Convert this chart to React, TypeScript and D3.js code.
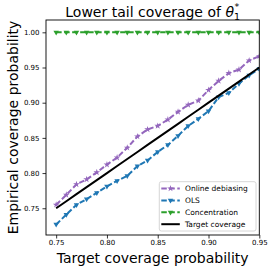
import { useEffect, useRef } from "react";
import * as d3 from "d3";

// target coverage levels (x)
const levels = [
  0.75, 0.76, 0.77, 0.78, 0.79, 0.8, 0.81, 0.82, 0.83, 0.84, 0.85, 0.86, 0.87,
  0.88, 0.89, 0.9, 0.91, 0.92, 0.93, 0.94, 0.95,
];
const onlineDebiasing = [
  0.755, 0.769, 0.784, 0.791, 0.801, 0.812, 0.822, 0.836, 0.852, 0.862, 0.867,
  0.876, 0.887, 0.897, 0.903, 0.918, 0.931, 0.942, 0.947, 0.96, 0.966,
];
const ols = [
  0.727, 0.741, 0.755, 0.763, 0.772, 0.781, 0.789, 0.796, 0.81, 0.818, 0.83,
  0.84, 0.853, 0.867, 0.877, 0.888, 0.908, 0.914, 0.927, 0.939, 0.948,
];
const concentration = [
  1, 1, 1, 1, 1, 1, 1, 1, 1, 1, 1, 1, 1, 1, 1, 1, 1, 1, 1, 1, 1,
];
const xTicks = [0.75, 0.8, 0.85, 0.9, 0.95];
const yTicks = [0.75, 0.8, 0.85, 0.9, 0.95, 1.0];

const W = 274;
const H = 272;

export default function App() {
  const svgRef = useRef<SVGSVGElement>(null);

  useEffect(() => {
    if (!svgRef.current) return;
    const svg = d3.select(svgRef.current);
    svg.selectAll("*").remove();

    const margin = { top: 20, right: 14.7, bottom: 37, left: 46 };
    const x = d3
      .scaleLinear()
      .domain([0.74, 0.95])
      .range([margin.left, W - margin.right]);
    const y = d3
      .scaleLinear()
      .domain([0.712, 1.0175])
      .range([H - margin.bottom, margin.top]);

    const font = "DejaVu Sans, sans-serif";

    svg
      .append("defs")
      .append("clipPath")
      .attr("id", "plot-clip")
      .append("rect")
      .attr("x", margin.left)
      .attr("y", margin.top)
      .attr("width", W - margin.left - margin.right)
      .attr("height", H - margin.top - margin.bottom);

    const plot = svg.append("g").attr("clip-path", "url(#plot-clip)");

    const series = [
      { name: "Online debiasing", values: onlineDebiasing, color: "#9467bd", marker: "star" },
      { name: "OLS", values: ols, color: "#1f77b4", marker: "tri" },
      { name: "Concentration", values: concentration, color: "#2ca02c", marker: "tri" },
    ];

    const line = d3
      .line<number>()
      .x((_, i) => x(levels[i]))
      .y((d) => y(d));

    const markerPath = (m: string) =>
      m === "star"
        ? d3.symbol().type(d3.symbolStar).size(14)()
        : d3.symbol().type(d3.symbolTriangle).size(13)();

    series.forEach((s) => {
      plot
        .append("path")
        .datum(s.values)
        .attr("fill", "none")
        .attr("stroke", s.color)
        .attr("stroke-width", 2)
        .attr("stroke-dasharray", "5.5,2.5")
        .attr("d", line);
      plot
        .append("g")
        .selectAll("path")
        .data(s.values)
        .join("path")
        .attr("d", markerPath(s.marker))
        .attr(
          "transform",
          (d, i) =>
            `translate(${x(levels[i])},${y(d)})` +
            (s.marker === "tri" ? " rotate(180)" : "")
        )
        .attr("fill", s.color);
    });

    // target coverage diagonal
    plot
      .append("path")
      .datum(levels)
      .attr("fill", "none")
      .attr("stroke", "#000")
      .attr("stroke-width", 2)
      .attr(
        "d",
        d3
          .line<number>()
          .x((d) => x(d))
          .y((d) => y(d))
      );

    // axes
    const xAxis = svg
      .append("g")
      .attr("transform", `translate(0,${H - margin.bottom})`)
      .call(
        d3
          .axisBottom(x)
          .tickValues(xTicks)
          .tickFormat(d3.format(".2f"))
          .tickSize(3.5)
          .tickPadding(2)
      );
    const yAxis = svg
      .append("g")
      .attr("transform", `translate(${margin.left},0)`)
      .call(
        d3
          .axisLeft(y)
          .tickValues(yTicks)
          .tickFormat(d3.format(".2f"))
          .tickSize(3.5)
          .tickPadding(3)
      );
    [xAxis, yAxis].forEach((a) => {
      a.select(".domain").remove();
      a.selectAll("line").attr("stroke", "#000").attr("stroke-width", 0.8);
      a.selectAll("text")
        .attr("fill", "#000")
        .attr("font-family", font)
        .attr("font-size", 7);
    });

    svg
      .append("rect")
      .attr("x", margin.left)
      .attr("y", margin.top)
      .attr("width", W - margin.left - margin.right)
      .attr("height", H - margin.top - margin.bottom)
      .attr("fill", "none")
      .attr("stroke", "#000")
      .attr("stroke-width", 0.9);

    const cx = (margin.left + W - margin.right) / 2;

    // title
    const title = svg
      .append("text")
      .attr("x", cx)
      .attr("y", 16.5)
      .attr("text-anchor", "middle")
      .attr("font-family", font)
      .attr("font-size", 14)
      .attr("fill", "#000");
    title.append("tspan").text("Lower tail coverage of ");
    title.append("tspan").attr("font-style", "italic").text("θ");
    title.append("tspan").attr("font-size", 9.5).attr("dy", 3).text("1");
    title
      .append("tspan")
      .attr("font-size", 9.5)
      .attr("dx", -5.5)
      .attr("dy", -9.5)
      .text("*");

    svg
      .append("text")
      .attr("x", cx)
      .attr("y", 262.7)
      .attr("text-anchor", "middle")
      .attr("font-family", font)
      .attr("font-size", 14)
      .text("Target coverage probability");

    svg
      .append("text")
      .attr(
        "transform",
        `translate(17.8,${(margin.top + H - margin.bottom) / 2}) rotate(-90)`
      )
      .attr("text-anchor", "middle")
      .attr("font-family", font)
      .attr("font-size", 14)
      .text("Empirical coverage probability");

    // legend
    const lg = svg.append("g").attr("transform", "translate(159.3,181.7)");
    lg.append("rect")
      .attr("width", 96.7)
      .attr("height", 49.3)
      .attr("rx", 2)
      .attr("fill", "#fff")
      .attr("fill-opacity", 0.8)
      .attr("stroke", "#cccccc")
      .attr("stroke-width", 0.8);
    const entries = [
      ...series,
      { name: "Target coverage", values: [], color: "#000", marker: "none" },
    ];
    entries.forEach((e, i) => {
      const ey = 6.8 + i * 11.9;
      const row = lg.append("g").attr("transform", `translate(0,${ey})`);
      row
        .append("line")
        .attr("x1", 2)
        .attr("x2", 20.5)
        .attr("stroke", e.color)
        .attr("stroke-width", 2)
        .attr("stroke-dasharray", e.marker === "none" ? null : "5.5,2.5");
      if (e.marker !== "none") {
        row
          .append("path")
          .attr("d", markerPath(e.marker))
          .attr(
            "transform",
            `translate(11.2,0)` + (e.marker === "tri" ? " rotate(180)" : "")
          )
          .attr("fill", e.color);
      }
      row
        .append("text")
        .attr("x", 25.7)
        .attr("dy", "0.35em")
        .attr("font-family", font)
        .attr("font-size", 7.5)
        .attr("fill", "#000")
        .text(e.name);
    });
  }, []);

  return (
    <svg
      ref={svgRef}
      width={W}
      height={H}
      style={{ position: "absolute", left: 0, top: 0, background: "#fff" }}
    />
  );
}
